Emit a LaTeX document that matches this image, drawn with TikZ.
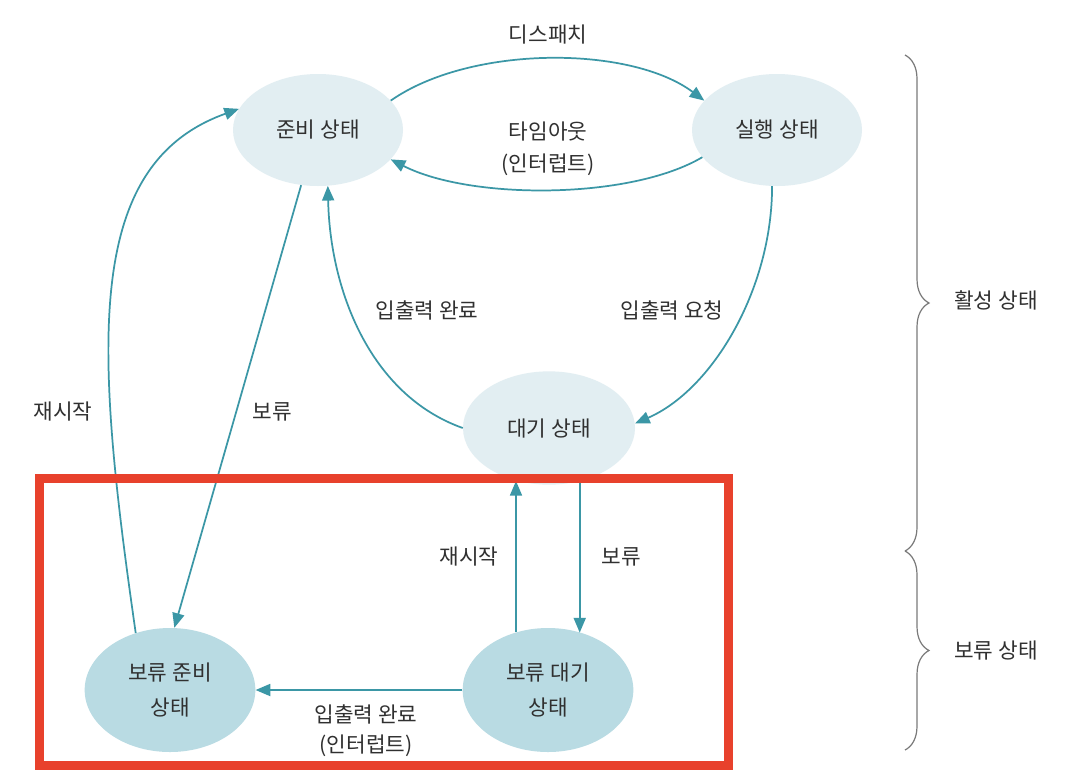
\documentclass[tikz,border=0pt]{standalone}
\usepackage{fontspec}
\setmainfont{Noto Sans CJK KR}
\usetikzlibrary{arrows.meta,decorations.pathreplacing,shapes.geometric}
\definecolor{teal1}{HTML}{3B97A6}
\definecolor{lightfill}{HTML}{E2EEF2}
\definecolor{darkfill}{HTML}{B9DBE3}
\definecolor{txt}{HTML}{303030}
\definecolor{redframe}{HTML}{E8412C}
\definecolor{bracegray}{HTML}{7A7A7A}
\begin{document}
\begin{tikzpicture}[x=0.75pt,y=-0.75pt,
  every node/.style={text=txt,font=\fontsize{16}{24}\selectfont},
  topstate/.style={ellipse,fill=lightfill,inner sep=0pt,minimum width=127.5pt,minimum height=84pt},
  botstate/.style={ellipse,fill=darkfill,inner sep=0pt,minimum width=128pt,minimum height=93pt,align=center,font=\fontsize{16}{26}\selectfont},
  arr/.style={draw=teal1,line width=1.3pt,-{Triangle[length=11pt,width=9pt]}},
  lbl/.style={align=center,inner sep=1pt},
  bracestyle/.style={draw=bracegray,line width=0.9pt,decorate,decoration={brace,amplitude=18pt}}
]
\useasboundingbox (0,0) rectangle (1066,772);
\fill[white] (0,0) rectangle (1066,772);

% states
\node[topstate] (jun) at (318,130) {준비 상태};
\node[topstate] (sil) at (777,130) {실행 상태};
\node[topstate,minimum width=129pt,minimum height=85pt] (dae) at (549,428) {대기 상태};
\node[botstate] (bj) at (170,690) {보류 준비\\상태};
\node[botstate] (bd) at (548,690) {보류 대기\\상태};

% arrows
\draw[arr] (jun.22) .. controls (470,45) and (630,45) .. (sil.158);
\draw[arr] (sil.200) .. controls (630,200) and (470,200) .. (jun.-22);
\draw[arr] (sil.265) .. controls (772,290) and (712,390) .. (dae.3);
\draw[arr] (dae.180) .. controls (370,395) and (330,290) .. (jun.280);
\draw[arr] (jun.253) -- (bj.86);
\draw[arr] (bj.121) .. controls (95,350) and (82,165) .. (jun.165);
\draw[arr] (bd.119) -- (bd.119 |- dae.239);
\draw[arr] (dae.300) -- (dae.300 |- bd.60);
\draw[arr] (bd.west) -- (bj.east);

% labels
\node[lbl] (l1) at (548,35) {디스패치};
\node[lbl] (l2) at (548,149) {타임아웃\\(인터럽트)};
\node[lbl] (l3) at (672,310) {입출력 요청};
\node[lbl] (l4) at (427,310) {입출력 완료};
\node[lbl] (l5) at (272,412) {보류};
\node[lbl] (l6) at (63,412) {재시작};
\node[lbl] (l7) at (469,557) {재시작};
\node[lbl] (l8) at (621,557) {보류};
\node[lbl,font=\fontsize{16}{22.5}\selectfont] (l9) at (366,731) {입출력 완료\\(인터럽트)};

% braces
\draw[bracestyle] (905,55) coordinate (b1s) -- (905,551) coordinate (b1e);
\draw[bracestyle] (905,551) coordinate (b2s) -- (905,750) coordinate (b2e);
\node[lbl] (act) at (996,300) {활성 상태};
\node[lbl] (hold) at (996,650) {보류 상태};

% red frame
\draw[draw=redframe,line width=6.8pt] (39.5,478.5) rectangle (728.5,765.5);
\end{tikzpicture}
\end{document}
